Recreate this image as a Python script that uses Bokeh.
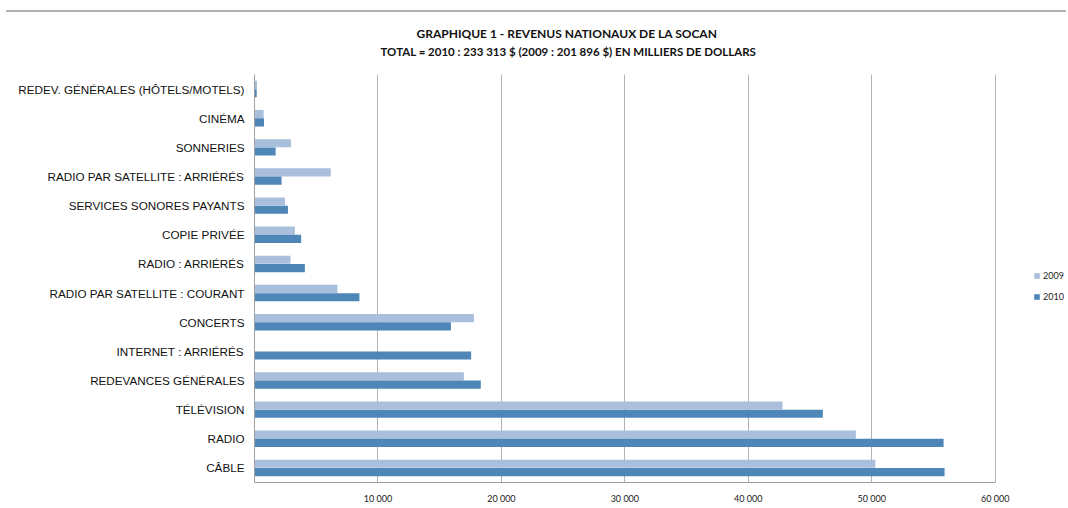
from bokeh.plotting import figure
from bokeh.models import Range1d, FactorRange, FixedTicker, Title, Div, ColumnDataSource
from bokeh.transform import dodge
from bokeh.layouts import column
from bokeh.embed import file_html
from bokeh.resources import INLINE

# ---- data (thousands of dollars) ----
categories = [
    "REDEV. GÉNÉRALES (HÔTELS/MOTELS)",
    "CINÉMA",
    "SONNERIES",
    "RADIO PAR SATELLITE : ARRIÉRÉS",
    "SERVICES SONORES PAYANTS",
    "COPIE PRIVÉE",
    "RADIO : ARRIÉRÉS",
    "RADIO PAR SATELLITE : COURANT",
    "CONCERTS",
    "INTERNET : ARRIÉRÉS",
    "REDEVANCES GÉNÉRALES",
    "TÉLÉVISION",
    "RADIO",
    "CÂBLE",
]
rev_2009 = [200, 740, 2950, 6180, 2470, 3270, 2920, 6720, 17770, 0, 16960, 42770, 48710, 50290]
rev_2010 = [180, 770, 1710, 2190, 2710, 3780, 4080, 8500, 15910, 17550, 18330, 46040, 55820, 55900]
series_names = ["2009", "2010"]
x_ticks = [10000, 20000, 30000, 40000, 50000, 60000]
x_tick_labels = ["10 000", "20 000", "30 000", "40 000", "50 000", "60 000"]
title_line1 = "GRAPHIQUE 1 - REVENUS NATIONAUX DE LA SOCAN"
title_line2 = "TOTAL = 2010 : 233 313 $ (2009 : 201 896 $) EN MILLIERS DE DOLLARS"

# ---- styles ----
C2009 = "#A9BFDC"
C2010 = "#4F86B8"
GRID = "#B3B3B3"
AXIS = "#A0A0A0"
NARROW = "Lato"

source = ColumnDataSource(dict(cat=categories, v2009=rev_2009, v2010=rev_2010))

y_range = FactorRange(factors=list(reversed(categories)))
x_range = Range1d(0, 65776)

p = figure(width=1066, height=494, y_range=y_range, x_range=x_range,
           output_backend="svg", toolbar_location=None,
           min_border_left=254, min_border_right=0, min_border_bottom=22,
           min_border_top=62)

p.hbar(y=dodge("cat", 0.142, range=y_range), right="v2009", left=0, height=0.28,
       source=source, fill_color=C2009, line_color=None, legend_label=series_names[0])
p.hbar(y=dodge("cat", -0.142, range=y_range), right="v2010", left=0, height=0.28,
       source=source, fill_color=C2010, line_color=None, legend_label=series_names[1])

p.outline_line_color = None
p.ygrid.grid_line_color = None
p.xgrid.grid_line_color = GRID
p.xgrid.grid_line_width = 1

p.xaxis.ticker = FixedTicker(ticks=x_ticks)
p.xaxis.major_label_overrides = {t: l for t, l in zip(x_ticks, x_tick_labels)}
p.xaxis.bounds = (0, 60000)
p.xaxis.axis_line_color = AXIS
p.xaxis.major_tick_line_color = None
p.xaxis.minor_tick_line_color = None
p.xaxis.major_tick_out = 0
p.xaxis.major_tick_in = 0
p.xaxis.minor_tick_out = 0
p.xaxis.major_label_text_font = NARROW
p.xaxis.major_label_text_font_size = "9px"
p.xaxis.major_label_text_color = "#222222"
p.xaxis.major_label_standoff = 10

p.yaxis.axis_line_color = AXIS
p.yaxis.major_tick_line_color = None
p.yaxis.minor_tick_line_color = None
p.yaxis.major_tick_out = 0
p.yaxis.major_tick_in = 0
p.yaxis.minor_tick_out = 0
p.yaxis.major_label_text_font = "Liberation Sans"
p.yaxis.major_label_text_font_size = "11.7px"
p.yaxis.major_label_text_color = "#111111"
p.yaxis.major_label_standoff = 10

# outermost title line (first line)
p.title.text = title_line1
p.title.align = "left"
p.title.offset = 162
p.title.standoff = 2
p.title.text_font = NARROW
p.title.text_font_size = "12px"
p.title.text_font_style = "bold"
p.title.text_color = "#111111"
# spacer nearest to the frame, then the second title line
spacer = Title(text=" ", text_font_size="2px", standoff=12)
p.add_layout(spacer, "above")
t2 = Title(text=title_line2, align="left", offset=126, standoff=2, text_font=NARROW,
           text_font_size="11.5px", text_font_style="bold", text_color="#111111")
p.add_layout(t2, "above")

lg = p.legend[0]
lg.location = (779, 180)
lg.border_line_color = None
lg.background_fill_alpha = 0
lg.padding = 0
lg.margin = 0
lg.spacing = 10
lg.glyph_width = 7
lg.glyph_height = 7
lg.label_height = 10
lg.label_standoff = 3
lg.label_text_font = NARROW
lg.label_text_font_size = "9px"
lg.label_text_color = "#222222"

rule = Div(text="", width=1060, height=2, margin=(10, 0, 0, 6),
           styles={"background-color": "#B0B0B0"})

layout = column(rule, p, spacing=0)
open("out.html", "w").write(file_html(layout, INLINE))
